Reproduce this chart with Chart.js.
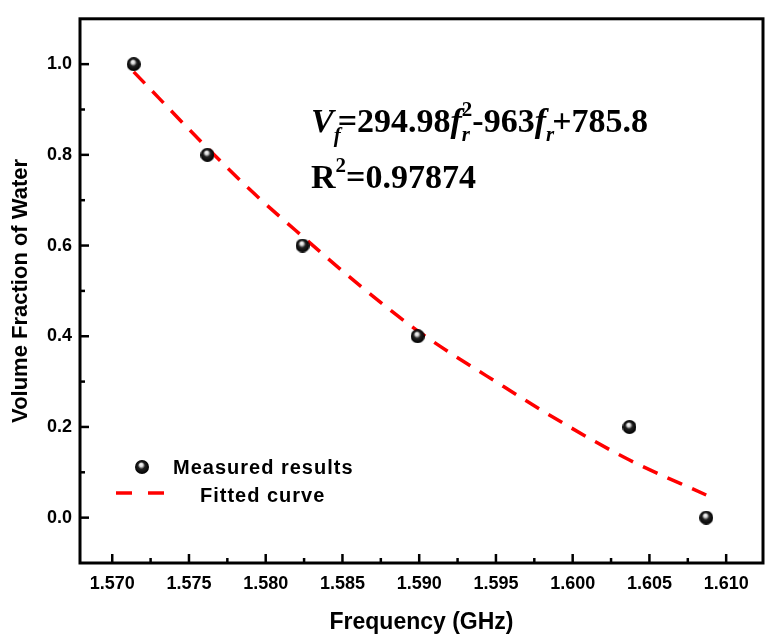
<!DOCTYPE html>
<html>
<head>
<meta charset="utf-8">
<script src="https://cdn.jsdelivr.net/npm/chart.js"></script>
<style>
  html, body { margin: 0; padding: 0; background: #fff; }
  #wrap { width: 775px; height: 644px; }
</style>
</head>
<body>
<div id="wrap"><canvas id="chart" width="775" height="644"></canvas></div>
<script>
// Measured points
const freqMeasured = [1.5714, 1.5762, 1.5824, 1.5899, 1.6037, 1.6087]
const waterMeasured = [1.0, 0.8, 0.6, 0.4, 0.2, 0.0]

// Fitted curve
const freqFit = [1.5714, 1.5762, 1.5793, 1.5824, 1.5862, 1.5899, 1.5955, 1.5998, 1.6037, 1.6087]
const waterFit = [0.983, 0.815, 0.713, 0.62, 0.51, 0.412, 0.289, 0.2, 0.127, 0.05]

// Axis ticks
const xTicks = [1.570, 1.575, 1.580, 1.585, 1.590, 1.595, 1.600, 1.605, 1.610]
const yTicks = [0.0, 0.2, 0.4, 0.6, 0.8, 1.0]

const FONT = "'Liberation Sans', Arial, sans-serif"
const SERIF = "'Liberation Serif', 'Times New Roman', serif"

// shiny black ball marker
function makeBall(d) {
  const c = document.createElement("canvas")
  c.width = c.height = d
  const g = c.getContext("2d")
  const r = d / 2
  const grad = g.createRadialGradient(r * 0.85, r * 0.6, 0, r, r, r)
  grad.addColorStop(0, "#ffffff")
  grad.addColorStop(0.25, "#d8d8d8")
  grad.addColorStop(0.5, "#222")
  grad.addColorStop(1, "#000")
  g.fillStyle = grad
  g.beginPath()
  g.arc(r, r, r, 0, Math.PI * 2)
  g.fill()
  return c
}
const ball = makeBall(14)

// frame, inward ticks, legend and equation
const decorations = {
  id: "decorations",
  afterDatasetsDraw(chart) {
    const { ctx, chartArea: a, scales } = chart
    const x = scales.x
    const y = scales.y
    ctx.save()
    ctx.strokeStyle = "#000"
    ctx.lineWidth = 3
    ctx.strokeRect(a.left, a.top, a.right - a.left, a.bottom - a.top)

    ctx.lineWidth = 2.5
    const tick = (x1, y1, x2, y2) => {
      ctx.beginPath()
      ctx.moveTo(x1, y1)
      ctx.lineTo(x2, y2)
      ctx.stroke()
    }
    xTicks.forEach((v, i) => {
      const px = x.getPixelForValue(v)
      tick(px, a.bottom, px, a.bottom - 9)
      if (i < xTicks.length - 1) {
        const mx = x.getPixelForValue((v + xTicks[i + 1]) / 2)
        tick(mx, a.bottom, mx, a.bottom - 5)
      }
    })
    yTicks.forEach((v, i) => {
      const py = y.getPixelForValue(v)
      tick(a.left, py, a.left + 9, py)
      if (i < yTicks.length - 1) {
        const my = y.getPixelForValue((v + yTicks[i + 1]) / 2)
        tick(a.left, my, a.left + 5, my)
      }
    })

    // legend
    ctx.drawImage(ball, 142 - 7, 467 - 7)
    ctx.fillStyle = "#000"
    ctx.font = "bold 20px " + FONT
    ctx.letterSpacing = "1px"
    ctx.textBaseline = "alphabetic"
    ctx.fillText("Measured results", 173, 474)
    ctx.fillText("Fitted curve", 200, 502)
    ctx.letterSpacing = "0px"
    ctx.strokeStyle = "#ff0000"
    ctx.lineWidth = 3.5
    tick(116, 493, 132, 493)
    tick(148, 493, 164, 493)

    // equation
    ctx.fillStyle = "#000"
    let cx = 311
    const base1 = 132
    const put = (txt, font, dy) => {
      ctx.font = font
      ctx.fillText(txt, cx, base1 + dy)
      return ctx.measureText(txt).width
    }
    const big = "bold 34px " + SERIF
    const bigI = "italic bold 34px " + SERIF
    const small = "bold 21px " + SERIF
    const smallI = "italic bold 21px " + SERIF
    cx += put("V", bigI, 0)
    cx += put("f", smallI, 10) - 3
    cx += put("=294.98", big, 0)
    cx += put("f", bigI, 0)
    const w2 = put("2", small, -16)
    put("r", smallI, 9)
    cx += w2
    cx += put("-963", big, 0)
    cx += put("f", bigI, 0)
    cx += put("r", smallI, 9) - 2
    cx += put("+785.8", big, 0)

    cx = 311
    const base2 = 188
    ctx.font = big
    ctx.fillText("R", cx, base2)
    cx += ctx.measureText("R").width
    ctx.font = small
    ctx.fillText("2", cx, base2 - 16)
    cx += ctx.measureText("2").width
    ctx.font = big
    ctx.fillText("=0.97874", cx, base2)
    ctx.restore()
  },
}

new Chart(document.getElementById("chart"), {
  type: "scatter",
  data: {
    datasets: [
      {
        label: "Measured results",
        data: freqMeasured.map((f, i) => ({ x: f, y: waterMeasured[i] })),
        pointStyle: ball,
        pointRadius: 7,
        showLine: false,
      },
      {
        label: "Fitted curve",
        data: freqFit.map((f, i) => ({ x: f, y: waterFit[i] })),
        showLine: true,
        borderColor: "#ff0000",
        borderWidth: 3.5,
        borderDash: [16, 11],
        pointRadius: 0,
        cubicInterpolationMode: "monotone",
        fill: false,
      },
    ],
  },
  options: {
    responsive: false,
    animation: false,
    devicePixelRatio: 1,
    layout: { padding: { top: 9, right: 12, left: 0, bottom: 0 } },
    plugins: { legend: { display: false }, tooltip: { enabled: false } },
    scales: {
      x: {
        type: "linear",
        min: 1.5679,
        max: 1.6124,
        afterBuildTicks: (s) => { s.ticks = xTicks.map((v) => ({ value: v })) },
        afterFit: (s) => { s.height = 81 },
        grid: { display: false, drawTicks: false },
        border: { display: false },
        ticks: {
          padding: 10,
          color: "#000",
          font: { family: FONT, size: 18, weight: "bold" },
          callback: (v) => Number(v).toFixed(3),
        },
        title: {
          display: true,
          text: "Frequency (GHz)",
          color: "#000",
          font: { family: FONT, size: 23, weight: "bold" },
          padding: { top: 0, bottom: 8 },
        },
      },
      y: {
        type: "linear",
        min: -0.1,
        max: 1.1,
        afterBuildTicks: (s) => { s.ticks = yTicks.map((v) => ({ value: v })) },
        afterFit: (s) => { s.width = 80 },
        grid: { display: false, drawTicks: false },
        border: { display: false },
        ticks: {
          padding: 8,
          color: "#000",
          font: { family: FONT, size: 18, weight: "bold" },
          callback: (v) => Number(v).toFixed(1),
        },
        title: {
          display: true,
          text: "Volume Fraction of Water",
          color: "#000",
          font: { family: FONT, size: 22, weight: "bold" },
          padding: { top: 8, bottom: 0 },
        },
      },
    },
  },
  plugins: [decorations],
})
</script>
</body>
</html>
